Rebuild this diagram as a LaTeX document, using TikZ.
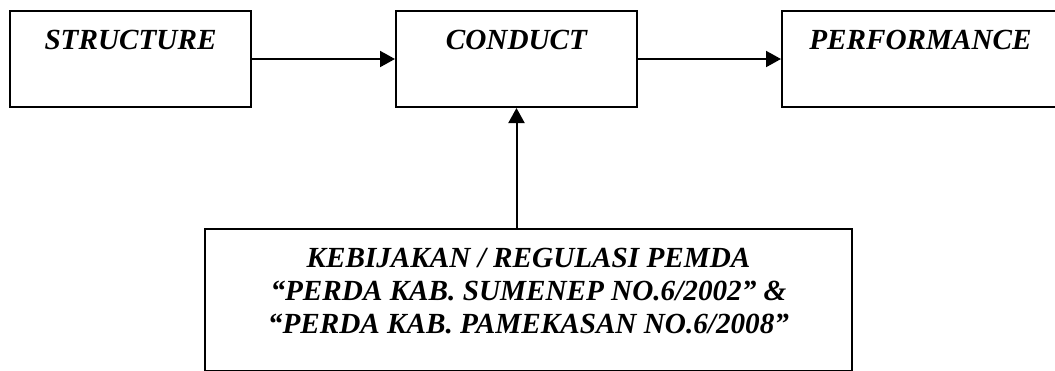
\documentclass[tikz,border=0pt]{standalone}
\usepackage{fontspec}
\setmainfont{Liberation Serif}
\usepackage{tikz}
\usetikzlibrary{arrows.meta,positioning,calc}

\begin{document}
\begin{tikzpicture}[font=\fontsize{14.6pt}{16.5pt}\selectfont\bfseries\itshape,
  >={Triangle[length=7.5pt,width=8pt]},line width=1pt,
  scp/.style={draw,align=center,minimum width=120.5pt,inner ysep=0pt,
    text height=19pt,text depth=29pt},
  kebij/.style={draw,align=center,minimum width=323.5pt,inner ysep=0pt,
    text height=52pt,text depth=19pt}]
\useasboundingbox (0,0) rectangle (527.5pt,-185pt);
% top row: structure, conduct, performance
\node[scp,anchor=north west] (struct) at (4.5pt,-5pt) {STRUCTURE};
\node[scp,right=71.5pt of struct] (cond) {CONDUCT};
\node[scp,right=71.5pt of cond,minimum width=138.5pt] (perf) {PERFORMANCE};
\draw[->] (struct)--(cond); \draw[->] (cond)--(perf);
% local government policy, feeding conduct
\node[kebij,below=60pt of cond,xshift=6pt] (regul) {KEBIJAKAN / REGULASI PEMDA\\
  ``PERDA KAB. SUMENEP NO.6/2002'' \&\\
  ``PERDA KAB. PAMEKASAN NO.6/2008''};
\draw[->] (cond.south|-regul.north) -- (cond.south);
\end{tikzpicture}
\end{document}
